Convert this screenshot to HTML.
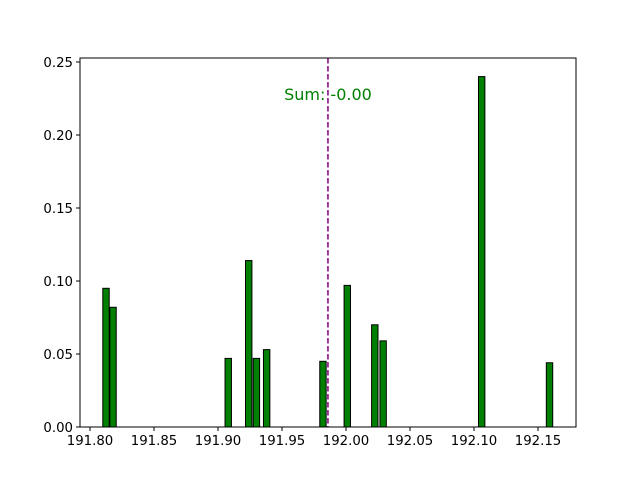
<!DOCTYPE html>
<html><head><meta charset="utf-8"><style>
body{margin:0;background:#fff}
svg{font-family:"DejaVu Sans","Liberation Sans",sans-serif}
</style></head><body>
<svg id="c" width="640" height="480"></svg>
<script>
const centers=[191.8125,191.818,191.908,191.924,191.930,191.938,191.982,192.001,192.0225,192.029,192.106,192.159];
const heights=[0.095,0.082,0.047,0.114,0.047,0.053,0.045,0.097,0.070,0.059,0.240,0.044];
const xTicks=[191.80,191.85,191.90,191.95,192.00,192.05,192.10,192.15];
const yTicks=[0,0.05,0.10,0.15,0.20,0.25];
const markerX=191.9859;
const sumLabel="Sum: -0.00";
const barW=0.005;
const L=80,R=576,T=58,B=427;
const sx=v=>90+(v-191.80)*1280;
const sy=v=>427-v*1460;
const svg=document.getElementById('c');
const NS='http://www.w3.org/2000/svg';
function mk(t,a){const e=document.createElementNS(NS,t);for(const k in a)e.setAttribute(k,a[k]);svg.appendChild(e);return e;}
centers.forEach((c,i)=>{
 const r=mk('rect',{x:sx(c-barW/2),y:sy(heights[i]),width:barW*1280,height:sy(0)-sy(heights[i]),fill:'#008000',stroke:'#000','stroke-width':1});
 
 
});
const ln=mk('line',{x1:sx(markerX),x2:sx(markerX),y1:T,y2:B,stroke:'#800080','stroke-width':1.5,'stroke-dasharray':'5.5,2.5'});


const st=mk('text',{x:sx(markerX),y:100,'text-anchor':'middle','font-size':16,fill:'#008000'});
st.textContent=sumLabel;


const fr=mk('rect',{x:L,y:T,width:R-L,height:B-T,fill:'none',stroke:'#000','stroke-width':1});


xTicks.forEach(v=>{
 mk('line',{x1:sx(v),x2:sx(v),y1:B,y2:B+4,stroke:'#000'});
 const t=mk('text',{x:sx(v),y:B+18,'text-anchor':'middle','font-size':13.3});
 t.textContent=v.toFixed(2);
 
 
});
yTicks.forEach(v=>{
 mk('line',{x1:L-4,x2:L,y1:sy(v),y2:sy(v),stroke:'#000'});
 const t=mk('text',{x:L-7,y:sy(v)+5,'text-anchor':'end','font-size':13.3});
 t.textContent=v.toFixed(2);
 
 
});
</script>
</body></html>
